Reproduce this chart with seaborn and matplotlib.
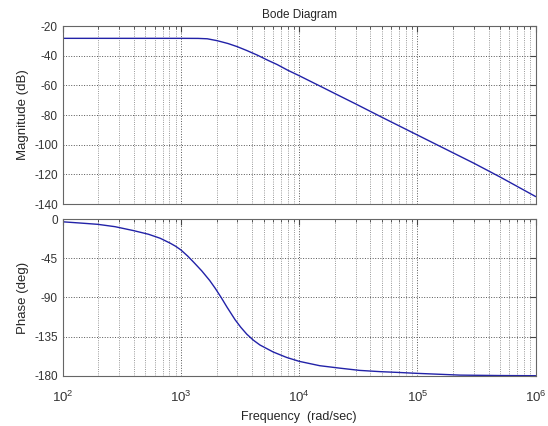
import numpy as np
import pandas as pd
import matplotlib
matplotlib.use("Agg")
import matplotlib.pyplot as plt
import matplotlib.ticker as mticker
import seaborn as sns

# values
mag_freq = [100, 300, 1000, 1400, 1670, 2030, 2500, 2990, 3600, 4420, 5400, 6520,
            8000, 10000, 15000, 20000, 30000, 50000, 100000, 200000, 300000,
            500000, 1000000]
mag_db = [-28.3, -28.3, -28.3, -28.35, -28.6, -29.9, -31.8, -33.9, -36.5, -39.6,
          -43.0, -46.0, -49.8, -53.5, -60.5, -65.5, -72.5, -81.5, -93.5, -105.5,
          -112.5, -121.8, -135.0]

phase_freq = [100, 140, 198, 277, 397, 532, 668, 813, 900, 1000, 1140, 1280, 1500,
              1750, 1950, 2200, 2450, 2870, 3200, 3600, 4100, 4660, 6030, 7820, 10000,
              14900, 22000, 32500, 48000, 70500, 100000, 229000, 500000, 1000000]
phase_deg = [-3.2, -4.6, -6.1, -8.8, -13.3, -17.5, -22.1, -27.8, -31.2, -35.5, -42.5,
             -49.5, -59.5, -70.5, -79.5, -90.5, -101.0, -115.5, -124.0, -132.0,
             -139.0, -144.5, -152.5, -158.7, -163.2, -168.2, -171.0, -173.6, -175.0,
             -176.0, -177.0, -179.0, -179.5, -179.7]

mag_ticks = [-20, -40, -60, -80, -100, -120, -140]
phase_ticks = [0, -45, -90, -135, -180]

sns.set_style("white")
plt.rcParams["font.family"] = ["Liberation Sans", "DejaVu Sans"]
plt.rcParams["font.size"] = 8.5
plt.rcParams["axes.unicode_minus"] = False
plt.rcParams["mathtext.fontset"] = "custom"
plt.rcParams["mathtext.rm"] = "Liberation Sans"

mag_df = pd.DataFrame({"freq": mag_freq, "mag": mag_db})
phase_df = pd.DataFrame({"freq": phase_freq, "phase": phase_deg})

fig = plt.figure(figsize=(5.48, 4.26), dpi=100)
ax1 = fig.add_axes([0.1144, 0.5211, 0.8632, 0.4178])
ax2 = fig.add_axes([0.1144, 0.1174, 0.8632, 0.3685])

line_color = "#2222a8"
sns.lineplot(data=mag_df, x="freq", y="mag", ax=ax1, color=line_color, linewidth=1.0)
sns.lineplot(data=phase_df, x="freq", y="phase", ax=ax2, color=line_color, linewidth=1.0)

for ax in (ax1, ax2):
    ax.set_xscale("log")
    ax.set_xlim(1e2, 1e6)
    ax.xaxis.set_major_locator(mticker.LogLocator(base=10, numticks=10))
    ax.xaxis.set_minor_locator(mticker.LogLocator(base=10, subs=np.arange(2, 10), numticks=10))
    ax.grid(True, which="major", axis="both", linestyle=":", color="#555555", linewidth=0.7)
    ax.grid(True, which="minor", axis="x", linestyle=":", color="#777777", linewidth=0.6)
    ax.tick_params(which="both", direction="in", top=True, right=True,
                   color="#444444", labelcolor="#333333")
    ax.tick_params(which="major", length=4)
    ax.tick_params(which="minor", length=2)
    for s in ax.spines.values():
        s.set_color("#666666")
        s.set_linewidth(0.8)

ax1.set_ylim(-140, -20)
ax1.set_yticks(mag_ticks)
ax1.xaxis.set_major_formatter(mticker.NullFormatter())
ax1.xaxis.set_minor_formatter(mticker.NullFormatter())
ax1.set_xlabel("")
ax1.set_ylabel("Magnitude (dB)", fontsize=9.5)
ax1.set_title("Bode Diagram", fontsize=8.5, pad=6)

ax2.set_ylim(-180, 0)
ax2.set_yticks(phase_ticks)
ax2.xaxis.set_minor_formatter(mticker.NullFormatter())
ax2.set_ylabel("Phase (deg)", fontsize=9.5)
ax2.set_xlabel("Frequency  (rad/sec)", fontsize=9)
ax2.tick_params(axis="x", labelsize=9.5, pad=10)

fig.savefig("out.png", dpi=100)
